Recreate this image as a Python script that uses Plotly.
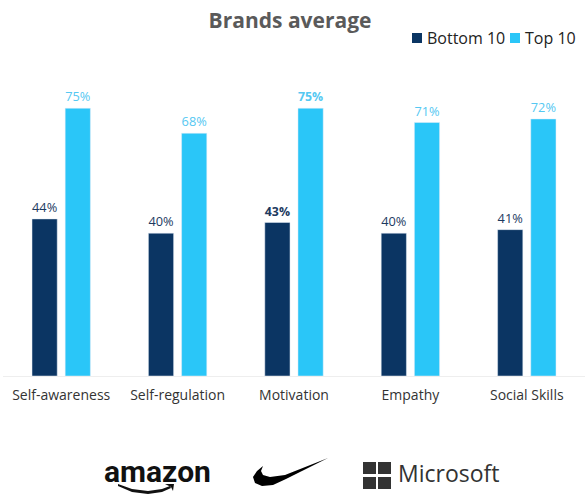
import plotly.graph_objects as go

categories = ["Self-awareness", "Self-regulation", "Motivation", "Empathy", "Social Skills"]
bottom10 = [44, 40, 43, 40, 41]
top10 = [75, 68, 75, 71, 72]
series_names = ["Bottom 10", "Top 10"]
highlight = "Motivation"

W, H = 587, 497
L, R, T, B = 3, 2, 60, 121
PW, PH = W - L - R, H - T - B

def px(x):
    return (x - L) / PW

def py(y):
    return (H - B - y) / PH

def lab(v, c):
    s = f"{v}%"
    return f"<b>{s}</b>" if c == highlight else s

DARK = "#0b3563"
LIGHT = "#2ac6f8"
FONT = "Open Sans"

fig = go.Figure()
fig.add_bar(x=categories, y=bottom10, name=series_names[0], marker_color=DARK,
            text=[lab(v, c) for v, c in zip(bottom10, categories)],
            textposition="outside", cliponaxis=False,
            textfont=dict(color="#1d3a5f", size=16, family=FONT))
fig.add_bar(x=categories, y=top10, name=series_names[1], marker_color=LIGHT,
            text=[lab(v, c) for v, c in zip(top10, categories)],
            textposition="outside", cliponaxis=False,
            textfont=dict(color="#55c8f2", size=16, family=FONT))

shapes = []
annotations = []

# manual compact legend
leg = [(412, DARK, series_names[0]), (510, LIGHT, series_names[1])]
for xs, col, nm in leg:
    shapes.append(dict(type="rect", xref="paper", yref="paper",
                       x0=px(xs), x1=px(xs + 10), y0=py(43), y1=py(33),
                       fillcolor=col, line=dict(width=0)))
    annotations.append(dict(text=nm, x=px(xs + 13), y=py(38), xref="paper", yref="paper",
                            showarrow=False, xanchor="left", yanchor="middle",
                            font=dict(family=FONT, size=16, color="#222222")))

# Microsoft squares
sq = 13
gap = 2
x0, y0 = 363, 462
for i in range(2):
    for j in range(2):
        xa = x0 + i * (sq + gap)
        ya = y0 + j * (sq + gap)
        shapes.append(dict(type="rect", xref="paper", yref="paper",
                           x0=px(xa), x1=px(xa + sq), y0=py(ya + sq - 1), y1=py(ya),
                           fillcolor="#333333", line=dict(width=0)))

def poly(pts):
    return "M " + " L ".join(f"{px(a):.5f},{py(b):.5f}" for a, b in pts) + " Z"

# Nike swoosh
sw = [(253, 477), (257, 471), (263, 466), (261, 471), (263, 475), (270, 477), (285, 475),
      (328, 458), (302, 471), (286, 479), (273, 485), (262, 486), (255, 483)]
shapes.append(dict(type="path", xref="paper", yref="paper", path=poly(sw),
                   fillcolor="#000000", line=dict(width=0)))

# Amazon smile
sm = [(118, 484), (132, 489), (148, 491), (162, 489), (170, 486), (171, 488),
      (162, 492), (148, 494), (132, 492), (118, 486)]
shapes.append(dict(type="path", xref="paper", yref="paper", path=poly(sm),
                   fillcolor="#111111", line=dict(width=0)))
arr = [(165, 484), (174, 484), (173, 491), (171, 487)]
shapes.append(dict(type="path", xref="paper", yref="paper", path=poly(arr),
                   fillcolor="#111111", line=dict(width=0)))

annotations += [
    dict(text="<b>amazon</b>", x=px(157), y=py(471), xref="paper", yref="paper",
         showarrow=False, font=dict(family="Roboto", size=30, color="#111111"),
         xanchor="center", yanchor="middle"),
    dict(text="Microsoft", x=px(396), y=py(473), xref="paper", yref="paper",
         showarrow=False, font=dict(family="Open Sans", size=23, color="#333333"),
         xanchor="left", yanchor="middle"),
]

fig.update_layout(
    width=W, height=H,
    margin=dict(l=L, r=R, t=T, b=B),
    paper_bgcolor="white", plot_bgcolor="white",
    barmode="group", bargap=0.43, bargroupgap=0.24,
    showlegend=False,
    title=dict(text="<b>Brands average</b>", x=290 / W, xanchor="center",
               y=1 - 21 / H, yanchor="middle",
               font=dict(family=FONT, size=21, color="#5a5a5a")),
    xaxis=dict(showgrid=False, showline=True, linecolor="#eeeeee", linewidth=1,
               ticks="", ticklabelstandoff=6,
               tickfont=dict(family=FONT, size=14, color="#333333")),
    yaxis=dict(range=[0, PH / 3.57], visible=False, showgrid=False),
    shapes=shapes, annotations=annotations,
    font=dict(family=FONT),
)

fig.write_html("out.html")
